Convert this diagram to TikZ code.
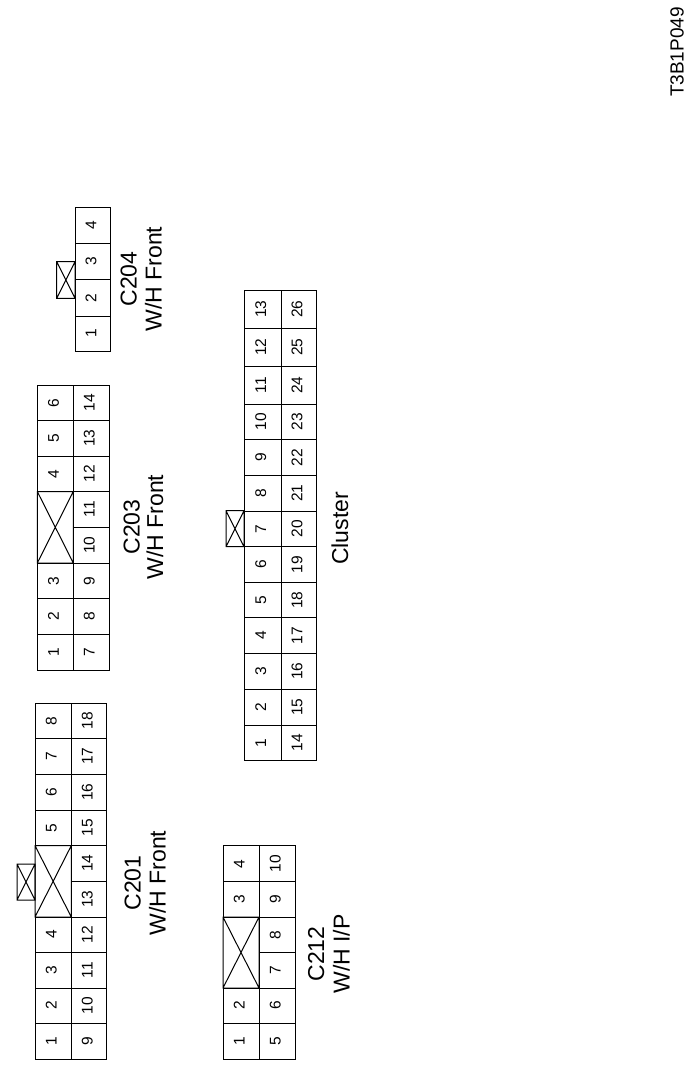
\documentclass[tikz,border=0pt]{standalone}
\usepackage{fontspec}
\setmainfont{Liberation Sans}
\tikzset{
  pinno/.style={rotate=90, inner sep=0pt, text height=0.716em, text depth=0pt, font=\fontsize{15.5}{15.5}\selectfont},
  plugname/.style={rotate=90, inner sep=0pt, text height=0.716em, text depth=0pt, font=\fontsize{23}{23}\selectfont},
  tagname/.style={rotate=90, inner sep=0pt, text height=0.716em, text depth=0pt, font=\fontsize{19}{19}\selectfont}
}
\begin{document}
\begin{tikzpicture}[x=1pt, y=-1pt, line width=1pt]
        \useasboundingbox (0,0) rectangle (700,1077);
        \node[tagname] (tag) at (680,52) {T3B1P049};
        % C201
        \foreach \a/\b/\n in {703/738.7/8,738.7/774/7,774/810/6,810/845.6/5,917/952/4,952/988/3,988/1023/2,1023/1059/1} \draw (35,\a) rectangle (71.3,\b) node[midway, pinno] (cA\n) {\n};
        \foreach \a/\b/\n in {703/738.7/18,738.7/774/17,774/810/16,810/845.6/15,845.6/881/14,881/917/13,917/952/12,952/988/11,988/1023/10,1023/1059/9} \draw (71.3,\a) rectangle (106.7,\b) node[midway, pinno] (cA\n) {\n};
        \draw (35,845.6) rectangle (71.3,917) (35,845.6) -- (71.3,917) (35,917) -- (71.3,845.6);
        \draw (17,864) rectangle (35,900) (17,864) -- (35,900) (17,900) -- (35,864);
        \node[plugname] (cAa) at (137,883) {C201};
        \node[plugname] (cAb) at (162,883) {W/H Front};
        % C212
        \foreach \a/\b/\n in {845.7/881.7/4,881.7/917/3,988/1023/2,1023/1059/1} \draw (223,\a) rectangle (259,\b) node[midway, pinno] (cB\n) {\n};
        \foreach \a/\b/\n in {845.7/881.7/10,881.7/917/9,917/952.5/8,952.5/988/7,988/1023/6,1023/1059/5} \draw (259,\a) rectangle (295,\b) node[midway, pinno] (cB\n) {\n};
        \draw (223,917) rectangle (259,988) (223,917) -- (259,988) (223,988) -- (259,917);
        \node[plugname] (cBa) at (320.5,954) {C212};
        \node[plugname] (cBb) at (346,954) {W/H I/P};
        % C204
        \foreach \a/\b/\n in {207.3/243.3/4,243.3/279.7/3,279.7/316/2,316/351.3/1} \draw (75,\a) rectangle (110.7,\b) node[midway, pinno] (cC\n) {\n};
        \draw (56.7,261.7) rectangle (75,298.3) (56.7,261.7) -- (75,298.3) (56.7,298.3) -- (75,261.7);
        \node[plugname] (cCa) at (133,279) {C204};
        \node[plugname] (cCb) at (158,279) {W/H Front};
        % C203
        \foreach \a/\b/\n in {385/420.7/6,420.7/456/5,456/491.5/4,563/598.5/3,598.5/634/2,634/670/1} \draw (37.3,\a) rectangle (73.3,\b) node[midway, pinno] (cD\n) {\n};
        \foreach \a/\b/\n in {385/420.7/14,420.7/456/13,456/491.5/12,491.5/527/11,527/563/10,563/598.5/9,598.5/634/8,634/670/7} \draw (73.3,\a) rectangle (109,\b) node[midway, pinno] (cD\n) {\n};
        \draw (37.3,491.5) rectangle (73.3,563) (37.3,491.5) -- (73.3,563) (37.3,563) -- (73.3,491.5);
        \node[plugname] (cDa) at (136,527) {C203};
        \node[plugname] (cDb) at (159.5,527) {W/H Front};
        % Cluster
        \foreach \a/\b/\n in {290.3/328/13,328/366/12,366/404/11,404/439.5/10,439.5/475.5/9,475.5/511/8,511/546.7/7,546.7/582.3/6,582.3/617.7/5,617.7/653.3/4,653.3/689/3,689/725/2,725/760.7/1} \draw (244,\a) rectangle (281.3,\b) node[midway, pinno] (cE\n) {\n};
        \foreach \a/\b/\n in {290.3/328/26,328/366/25,366/404/24,404/439.5/23,439.5/475.5/22,475.5/511/21,511/546.7/20,546.7/582.3/19,582.3/617.7/18,617.7/653.3/17,653.3/689/16,689/725/15,725/760.7/14} \draw (281.3,\a) rectangle (316.3,\b) node[midway, pinno] (cE\n) {\n};
        \draw (226,510.7) rectangle (244,546.7) (226,510.7) -- (244,546.7) (226,546.7) -- (244,510.7);
        \node[plugname] (cEa) at (344.5,528.5) {Cluster};
    \end{tikzpicture}
\end{document}
